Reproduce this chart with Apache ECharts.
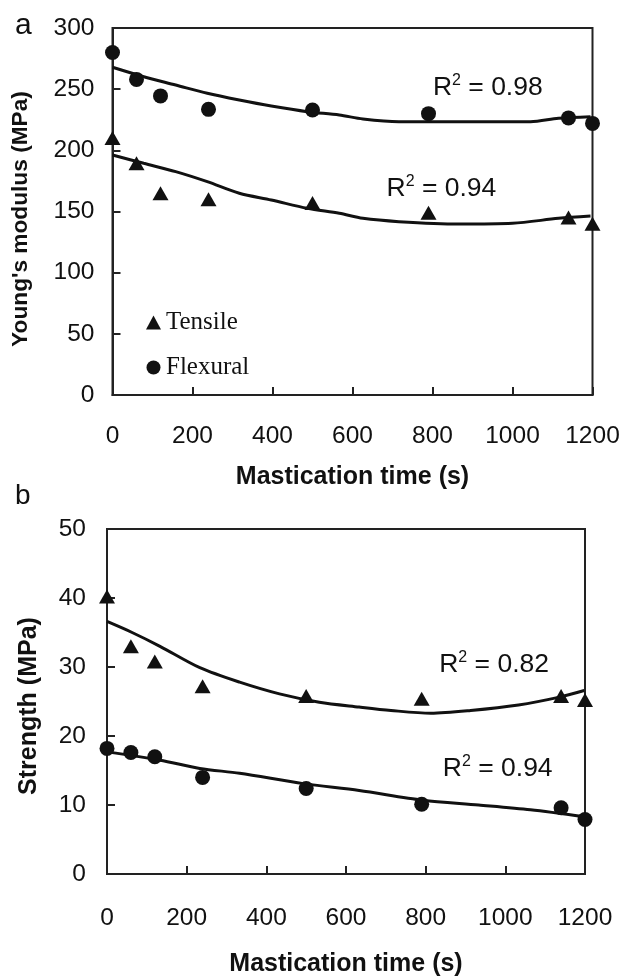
<!DOCTYPE html>
<html>
<head>
<meta charset="utf-8">
<script src="https://cdn.jsdelivr.net/npm/echarts@6/dist/echarts.min.js"></script>
<style>
html,body{margin:0;padding:0;background:#fff;}
#chart{width:624px;height:978px;}
</style>
</head>
<body>
<div id="chart"></div>
<script>
// ---------- data ----------
var timeS = [0, 60, 120, 240, 500, 790, 1140, 1200];
// panel a: Young's modulus (MPa)
var modTensile  = [210, 189.5, 165, 160, 157, 149, 145, 140];
var modFlexural = [280, 258, 244.5, 233.5, 233, 230, 226.5, 222];
// trendlines
var modFlexFitX = [0, 78, 158, 237, 317, 397, 487, 567, 626, 716, 866, 1045, 1115, 1195];
var modFlexFitY = [267.9, 260.2, 253.4, 246.6, 241.1, 236.2, 231.6, 228.9, 225.6, 223.4, 223.4, 223.4, 226.2, 227.5];
var modTensFitX = [0, 78, 158, 237, 317, 397, 487, 567, 626, 716, 866, 1000, 1115, 1195];
var modTensFitY = [196.2, 189.4, 182.6, 174.4, 164.9, 159.4, 152.6, 148.5, 144.4, 141.7, 139.8, 140.4, 144.4, 146.3];
// panel b: Strength (MPa)
var strTensile  = [40.2, 33, 30.8, 27.2, 25.8, 25.4, 25.8, 25.2];
var strFlexural = [18.2, 17.6, 17, 14, 12.4, 10.1, 9.6, 7.9];
var strTensFitX = [0, 63, 133, 233, 333, 433, 533, 633, 713, 813, 913, 1033, 1133, 1198];
var strTensFitY = [36.6, 35.0, 33.0, 29.9, 27.8, 26.1, 24.9, 24.2, 23.7, 23.3, 23.7, 24.5, 25.6, 26.6];
var strFlexFitX = [0, 133, 233, 333, 493, 633, 793, 933, 1063, 1198];
var strFlexFitY = [17.7, 16.5, 15.3, 14.6, 13.1, 12.1, 10.7, 10.0, 9.3, 8.3];
// tick values / labels
var xTicks = [0, 200, 400, 600, 800, 1000, 1200];
var modTicks = [0, 50, 100, 150, 200, 250, 300];
var strTicks = [0, 10, 20, 30, 40, 50];
// annotations: [x, y, text]
var r2Mod = [[801, 251, '0.98'], [685, 169, '0.94']];
var r2Str = [[834, 30.4, '0.82'], [843, 15.3, '0.94']];

function zip(a, b) { return a.map(function (v, i) { return [v, b[i]]; }); }

var INK = '#111';
var SANS = '"Liberation Sans", Arial, sans-serif';
var SERIF = '"Liberation Serif", "Times New Roman", serif';

function xAxisDef(gi, nameGap, labelMargin) {
  return {
    gridIndex: gi, type: 'value', min: xTicks[0], max: xTicks[xTicks.length - 1], interval: 200,
    name: 'Mastication time (s)', nameLocation: 'middle', nameGap: nameGap,
    nameTextStyle: { fontFamily: SANS, fontSize: 25, fontWeight: 'bold', color: INK },
    axisLine: { show: true, lineStyle: { color: '#222', width: 2 } },
    axisTick: { show: true, inside: true, length: 8, lineStyle: { color: '#222', width: 2 } },
    axisLabel: { fontFamily: SANS, fontSize: 24.5, color: INK, margin: labelMargin,
      formatter: function (v) { return String(v); } },
    splitLine: { show: false }
  };
}
function yAxisDef(gi, ticks, labelMargin) {
  return {
    gridIndex: gi, type: 'value', min: ticks[0], max: ticks[ticks.length - 1], interval: ticks[1] - ticks[0],
    axisLine: { show: true, lineStyle: { color: '#222', width: 2 } },
    axisTick: { show: true, inside: true, length: 8, lineStyle: { color: '#222', width: 2 } },
    axisLabel: { fontFamily: SANS, fontSize: 24.5, color: INK, margin: labelMargin,
      formatter: function (v) { return String(v); } },
    splitLine: { show: false }
  };
}
function scatter(name, gi, sym, size, x, y) {
  return { name: name, type: 'scatter', xAxisIndex: gi, yAxisIndex: gi, symbol: sym, symbolSize: size,
    itemStyle: { color: INK, opacity: 1 }, data: zip(x, y), z: 3 };
}
function fit(gi, x, y) {
  return { type: 'line', xAxisIndex: gi, yAxisIndex: gi, showSymbol: false, symbol: 'none', smooth: 0.3,
    lineStyle: { color: INK, width: 3 }, data: zip(x, y), z: 2, silent: true };
}
function r2(gi, arr) {
  return { type: 'scatter', xAxisIndex: gi, yAxisIndex: gi, symbolSize: 0, silent: true,
    itemStyle: { opacity: 1 },
    data: arr.map(function (d) { return { value: [d[0], d[1]], txt: d[2] }; }),
    label: { show: true, position: 'right', distance: 0, opacity: 1, color: INK,
      formatter: function (p) { return '{r|R}{s|2}{r| = ' + p.data.txt + '}'; },
      rich: {
        r: { fontFamily: SANS, fontSize: 26.5, color: INK, lineHeight: 30 },
        s: { fontFamily: SANS, fontSize: 16, color: INK, lineHeight: 30, verticalAlign: 'top', padding: [0, 0, 11, 0] }
      } } };
}

var chart = echarts.init(document.getElementById('chart'), null, { renderer: 'canvas' });
chart.setOption({
  backgroundColor: '#fff',
  animation: false,
  grid: [
    { left: 112.5, top: 28, width: 480, height: 367, show: true, borderColor: '#222', borderWidth: 2, backgroundColor: 'transparent' },
    { left: 107, top: 529, width: 478, height: 347, show: true, borderColor: '#222', borderWidth: 2, backgroundColor: 'transparent' }
  ],
  xAxis: [xAxisDef(0, 70, 29), xAxisDef(1, 78, 32)],
  yAxis: [yAxisDef(0, modTicks, 18), yAxisDef(1, strTicks, 21)],
  legend: {
    data: [{ name: 'Tensile', icon: 'triangle' }, { name: 'Flexural', icon: 'circle' }],
    orient: 'vertical', left: 141, top: 305, itemWidth: 15, itemHeight: 14, itemGap: 20,
    selectedMode: false,
    itemStyle: { color: INK, opacity: 1 },
    textStyle: { fontFamily: SERIF, fontSize: 25, color: INK, padding: [0, 0, 0, 0] }
  },
  graphic: [
    { type: 'text', left: 15, top: 11, style: { text: 'a', font: '30px ' + SANS, fill: INK } },
    { type: 'text', left: 15, top: 482, style: { text: 'b', font: '28px ' + SANS, fill: INK } },
    { type: 'text', x: 21, y: 219, rotation: Math.PI / 2,
      style: { text: "Young's modulus (MPa)", font: 'bold 22.7px ' + SANS, fill: INK, align: 'center', verticalAlign: 'middle' } },
    { type: 'text', x: 29, y: 706, rotation: Math.PI / 2,
      style: { text: 'Strength (MPa)', font: 'bold 25px ' + SANS, fill: INK, align: 'center', verticalAlign: 'middle' } }
  ],
  series: [
    fit(0, modFlexFitX, modFlexFitY),
    fit(0, modTensFitX, modTensFitY),
    scatter('Tensile', 0, 'triangle', [16, 14], timeS, modTensile),
    scatter('Flexural', 0, 'circle', 15, timeS, modFlexural),
    r2(0, r2Mod),
    fit(1, strTensFitX, strTensFitY),
    fit(1, strFlexFitX, strFlexFitY),
    scatter('Tensile', 1, 'triangle', [16, 14], timeS, strTensile),
    scatter('Flexural', 1, 'circle', 15, timeS, strFlexural),
    r2(1, r2Str)
  ]
});
</script>
</body>
</html>
